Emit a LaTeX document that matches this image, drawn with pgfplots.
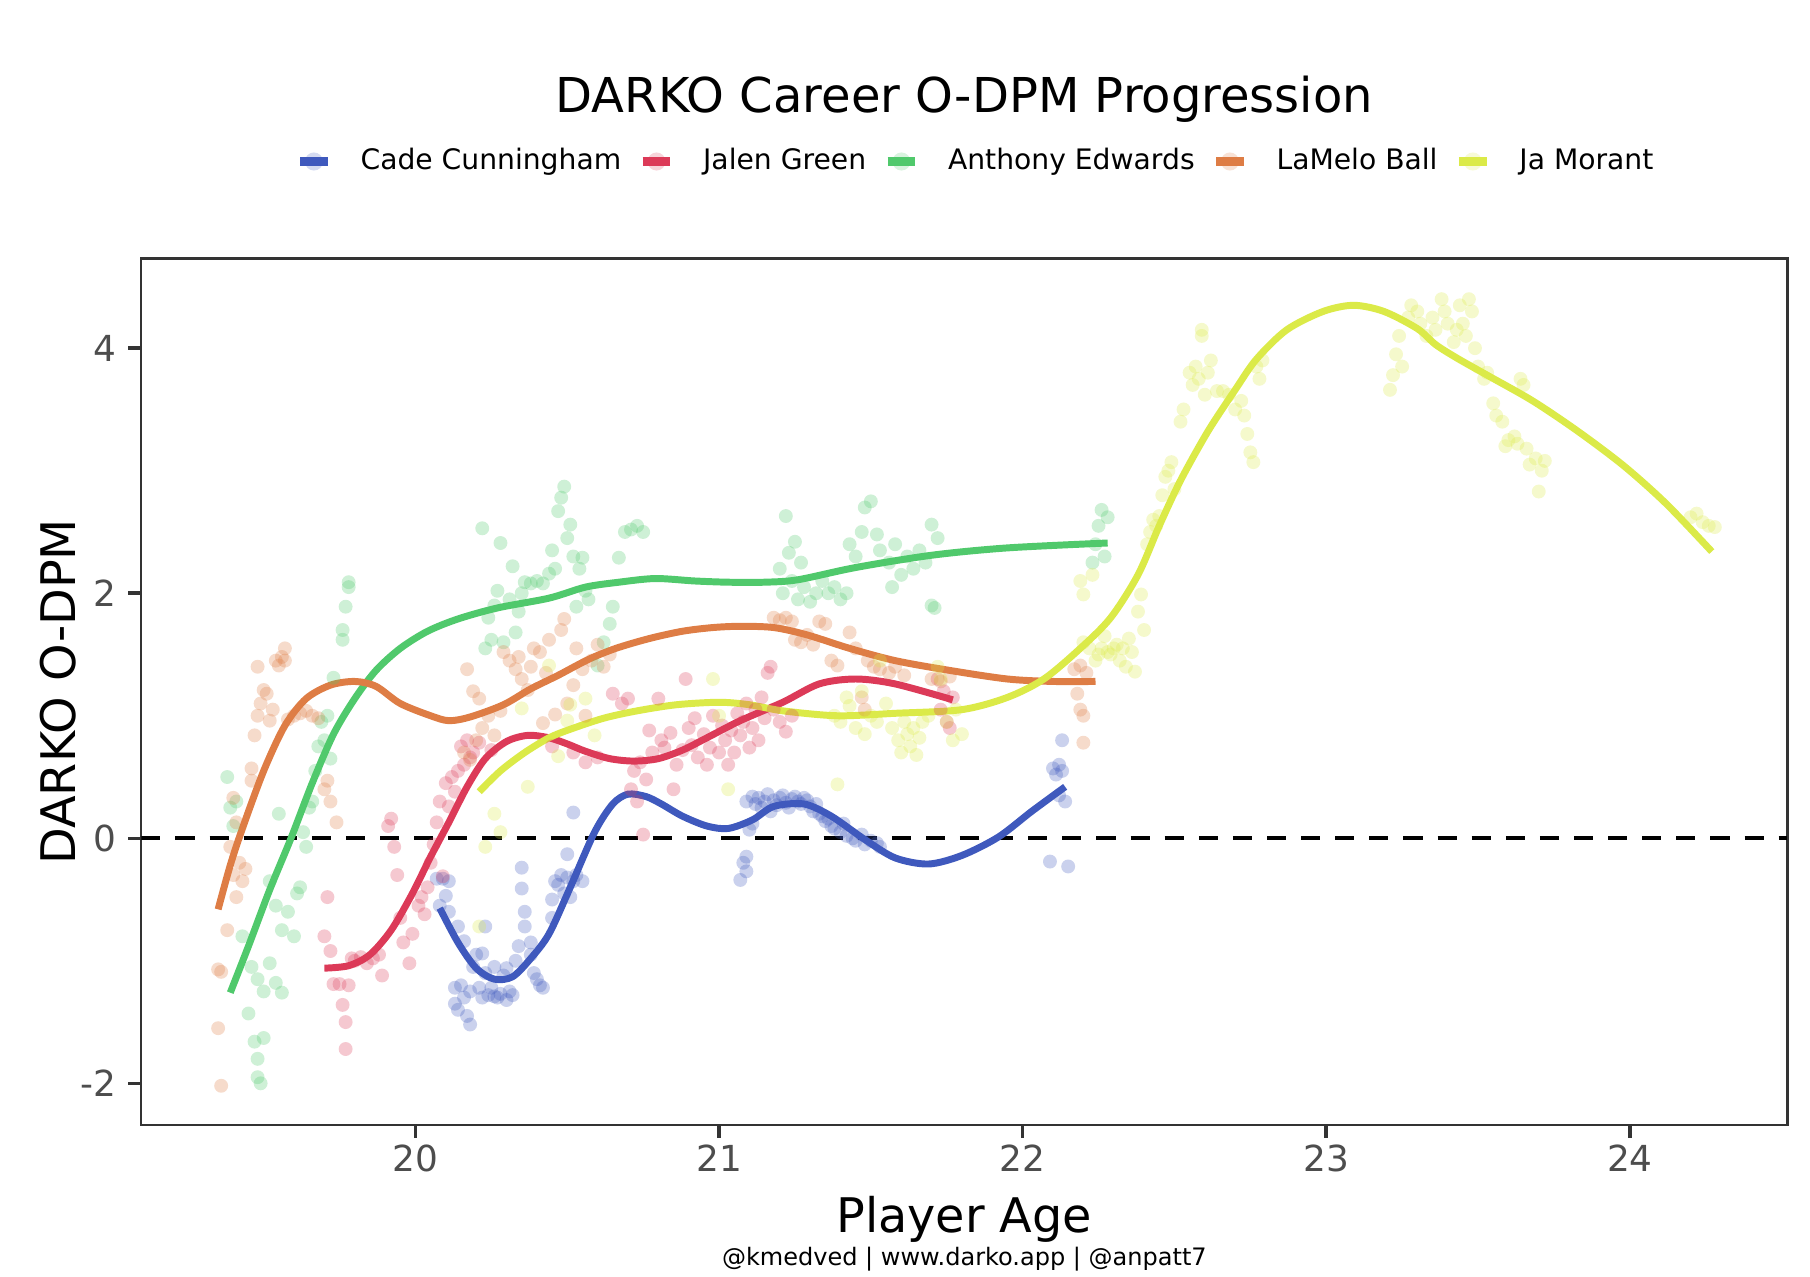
\documentclass[border=0pt]{standalone}
\usepackage{fontspec}
\setmainfont{DejaVu Sans}
\usepackage{pgfplots}
\pgfplotsset{compat=1.18}
\definecolor{cade}{HTML}{3F59BD}
\definecolor{jalen}{HTML}{DC3A58}
\definecolor{ant}{HTML}{50C96C}
\definecolor{lamelo}{HTML}{DE7D45}
\definecolor{ja}{HTML}{DBEA48}
\definecolor{tickgray}{HTML}{4D4D4D}
\definecolor{framegray}{HTML}{333333}
\pgfplotsset{
  pts/.style={only marks, mark=*, mark size=2bp, mark options={draw opacity=0, fill opacity=0.28}, forget plot},
  sline/.style={no marks, smooth, tension=0.5, line width=2.0bp},
}
\begin{document}
\begin{tikzpicture}
\path[use as bounding box] (-40.6bp,-43.4bp) rectangle (479.4bp,323.2bp);
\begin{axis}[
  scale only axis, width=472.9bp, height=248.9bp,
  xmin=19.097, xmax=24.519, ymin=-2.34, ymax=4.731,
  xtick={20,21,22,23,24}, ytick={-2,0,2,4},
  tick pos=left, tick align=outside, major tick length=3.7bp,
  tick style={draw=framegray, line width=1bp},
  axis line style={draw=framegray, line width=0.65bp},
  /pgf/number format/assume math mode=true,
  tick label style={font=\fontsize{10.3bp}{12bp}\selectfont, text=tickgray},
  xticklabel style={anchor=north, inner sep=0pt, yshift=-1.8bp},
  yticklabel style={anchor=east, inner sep=0pt, xshift=-3.2bp},
  xlabel={Player Age}, ylabel={DARKO O-DPM},
  label style={font=\fontsize{13.7bp}{16bp}\selectfont},
  xlabel style={at={(axis description cs:0.5,-0.1245)}, anchor=base},
  ylabel style={at={(axis description cs:-0.0402,0.5)}, anchor=base},
  title={DARKO Career O-DPM Progression},
  title style={at={(axis description cs:0.5,1.1449)}, anchor=base, font=\fontsize{13.8bp}{16bp}\selectfont},
  legend columns=5,
  legend cell align=left,
  legend style={at={(axis description cs:0.5084,1.1121)}, anchor=center, draw=none, fill=none,
    font=\fontsize{8.1bp}{9.7bp}\selectfont, inner sep=0pt,
    /tikz/every even column/.append style={column sep=3.0bp}},
  legend image code/.code={%
    \fill[#1, draw=none, fill opacity=0.22] (4bp,0bp) circle (2.6bp);
    \draw[#1, line width=2.3bp] (0bp,0bp) -- (8bp,0bp);
    \path[draw=none, fill=none] (0bp,-3bp) rectangle (15.4bp,3bp);
  },
]
% ---------------- scatter points ----------------
\addplot[pts, color=cade] coordinates {
(20.07,-0.33)(20.09,-0.33)(20.08,-0.55)(20.10,-0.47)(20.11,-0.60)(20.11,-0.35)
(20.13,-1.35)(20.13,-1.22)(20.14,-1.40)(20.15,-1.20)(20.16,-1.30)(20.17,-1.45)(20.18,-1.52)(20.18,-1.25)
(20.14,-0.72)(20.16,-0.84)(20.19,-1.05)(20.20,-0.95)(20.22,-0.94)(20.23,-0.72)(20.21,-1.22)(20.22,-1.30)
(20.23,-1.10)(20.24,-1.28)(20.25,-1.22)(20.26,-1.29)(20.26,-1.05)(20.27,-1.30)(20.28,-1.27)(20.29,-1.12)
(20.30,-1.32)(20.30,-1.06)(20.31,-1.25)(20.32,-1.28)(20.33,-1.00)(20.34,-0.88)(20.35,-0.24)(20.35,-0.41)
(20.36,-0.60)(20.36,-0.72)(20.38,-0.85)(20.38,-0.95)(20.39,-1.10)(20.40,-1.15)(20.41,-1.20)(20.42,-1.22)
(20.45,-0.50)(20.45,-0.65)(20.46,-0.35)(20.47,-0.38)(20.48,-0.30)(20.49,-0.45)(20.50,-0.13)(20.50,-0.32)
(20.51,-0.48)(20.52,-0.35)(20.52,0.21)(20.53,-0.30)(20.55,-0.35)
(21.07,-0.34)(21.08,-0.20)(21.09,-0.15)(21.09,-0.27)(21.10,0.07)(21.11,0.12)(21.09,0.30)(21.11,0.34)
(21.12,0.28)(21.13,0.33)(21.14,0.25)(21.15,0.30)(21.16,0.36)(21.17,0.22)(21.18,0.31)(21.19,0.27)
(21.20,0.33)(21.21,0.35)(21.22,0.29)(21.23,0.25)(21.24,0.32)(21.25,0.34)(21.26,0.30)(21.27,0.28)
(21.28,0.33)(21.29,0.31)(21.30,0.26)(21.31,0.22)(21.32,0.28)(21.33,0.20)(21.34,0.18)(21.35,0.14)
(21.36,0.16)(21.37,0.10)(21.38,0.08)(21.40,0.05)(21.41,0.12)(21.42,0.02)(21.44,0.00)(21.45,-0.02)
(21.47,0.03)(21.48,-0.05)(21.50,-0.02)(21.52,-0.04)(21.53,-0.07)
(22.10,0.57)(22.11,0.52)(22.12,0.60)(22.13,0.80)(22.12,0.35)(22.14,0.30)(22.09,-0.19)(22.15,-0.23)(22.13,0.55)
};
\addplot[pts, color=jalen] coordinates {
(19.70,-0.80)(19.71,-0.48)(19.72,-0.92)(19.73,-1.19)(19.75,-1.19)(19.76,-1.36)(19.77,-1.50)(19.77,-1.72)
(19.79,-0.98)(19.80,-1.00)(19.82,-0.97)(19.84,-1.02)(19.86,-0.98)(19.88,-0.95)(19.89,-1.12)(19.78,-1.20)
(19.91,0.10)(19.92,0.16)(19.93,-0.07)(19.94,-0.30)(19.95,-0.65)(19.96,-0.85)(19.98,-1.02)(19.99,-0.78)
(20.01,-0.55)(20.02,-0.48)(20.03,-0.62)(20.04,-0.40)(20.05,-0.20)(20.06,-0.05)(20.07,0.13)(20.08,0.30)
(20.09,-0.31)(20.10,0.45)(20.11,0.26)(20.12,0.50)(20.13,0.38)(20.14,0.55)(20.15,0.75)(20.16,0.60)
(20.17,0.80)(20.18,0.66)(20.19,0.70)(20.21,0.78)(20.25,0.72)
(20.45,0.75)(20.52,0.70)(20.56,0.62)(20.60,0.66)(20.65,1.18)(20.68,1.10)(20.70,1.14)(20.71,0.40)
(20.72,0.55)(20.73,0.30)(20.74,0.62)(20.75,0.03)(20.76,0.48)(20.77,0.88)(20.78,0.70)(20.80,1.14)
(20.81,0.80)(20.82,0.74)(20.84,0.86)(20.85,0.40)(20.86,0.60)(20.88,0.72)(20.89,1.30)(20.90,0.90)
(20.91,0.76)(20.92,0.98)(20.93,0.66)(20.95,0.85)(20.96,0.60)(20.97,0.74)(20.98,1.00)(21.00,0.70)
(21.01,0.92)(21.02,0.80)(21.03,0.60)(21.04,0.88)(21.05,0.70)(21.06,1.02)(21.07,0.84)(21.08,0.95)
(21.09,1.10)(21.10,0.74)(21.11,0.90)(21.12,1.05)(21.13,0.80)(21.14,1.15)(21.15,0.98)(21.16,1.35)
(21.17,1.40)(21.18,1.05)(21.20,0.95)(21.22,0.87)(21.24,1.00)
(21.72,1.30)(21.73,1.05)(21.74,1.20)(21.75,0.95)(21.76,0.90)(21.77,1.15)
};
\addplot[pts, color=ant] coordinates {
(19.38,0.50)(19.39,0.25)(19.40,0.10)(19.41,0.30)(19.43,-0.80)(19.45,-1.43)(19.47,-1.66)(19.48,-1.80)
(19.48,-1.95)(19.49,-2.00)(19.50,-1.63)(19.46,-1.05)(19.48,-1.15)(19.50,-1.25)(19.52,-1.02)(19.54,-1.18)
(19.56,-1.26)(19.52,-0.35)(19.54,-0.55)(19.56,-0.75)(19.58,-0.60)(19.60,-0.80)(19.61,-0.45)(19.55,0.20)
(19.62,-0.40)(19.63,0.05)(19.64,-0.07)(19.65,0.25)(19.66,0.30)(19.67,0.55)(19.68,0.75)(19.69,0.95)
(19.70,0.80)(19.71,1.00)(19.72,0.65)(19.73,1.31)(19.76,1.62)(19.76,1.70)(19.77,1.89)(19.78,2.09)(19.78,2.05)
(20.22,2.53)(20.23,1.55)(20.24,1.80)(20.25,1.62)(20.26,1.90)(20.27,2.02)(20.28,2.41)(20.29,1.60)
(20.31,1.95)(20.32,2.22)(20.33,1.68)(20.34,1.85)(20.35,2.00)(20.36,2.09)(20.38,2.08)(20.40,2.10)
(20.42,2.08)(20.44,2.16)(20.45,2.35)(20.46,2.20)(20.47,2.67)(20.48,2.78)(20.49,2.87)(20.50,2.45)
(20.51,2.56)(20.52,2.30)(20.53,1.89)(20.54,2.20)(20.55,2.29)(20.56,2.02)(20.57,1.95)(20.60,1.41)
(20.62,1.60)(20.64,1.75)(20.65,1.89)(20.67,2.29)(20.69,2.50)(20.71,2.52)(20.73,2.55)(20.75,2.50)
(21.20,2.20)(21.21,2.00)(21.22,2.63)(21.23,2.33)(21.24,2.10)(21.25,2.42)(21.26,1.95)(21.27,2.25)
(21.28,2.05)(21.30,1.93)(21.32,2.00)(21.34,2.10)(21.36,2.00)(21.38,2.05)(21.40,1.95)(21.42,2.00)
(21.43,2.40)(21.45,2.30)(21.47,2.50)(21.48,2.70)(21.50,2.75)(21.52,2.48)(21.53,2.35)(21.56,2.25)
(21.57,2.05)(21.58,2.40)(21.60,2.15)(21.62,2.30)(21.64,2.20)(21.66,2.35)(21.68,2.25)(21.70,2.56)
(21.70,1.90)(21.71,1.88)(21.72,2.45)
(22.23,2.25)(22.24,2.40)(22.25,2.55)(22.26,2.68)(22.27,2.30)(22.28,2.62)
};
\addplot[pts, color=lamelo] coordinates {
(19.35,-1.07)(19.36,-1.09)(19.35,-1.55)(19.36,-2.02)(19.38,-0.75)(19.39,-0.07)(19.40,-0.30)(19.41,-0.48)
(19.42,-0.20)(19.43,-0.35)(19.44,-0.25)(19.40,0.33)(19.41,0.13)(19.46,0.57)(19.46,0.47)(19.47,0.84)
(19.48,1.00)(19.49,1.10)(19.50,1.21)(19.48,1.40)(19.51,1.18)(19.52,0.96)(19.53,1.05)(19.54,1.45)
(19.55,1.41)(19.56,1.48)(19.57,1.55)(19.57,1.45)(19.58,0.97)(19.60,1.00)(19.62,1.02)(19.64,1.04)
(19.66,1.00)(19.68,0.98)(19.70,0.40)(19.72,0.30)(19.74,0.13)(19.71,0.47)
(20.16,0.70)(20.17,1.38)(20.18,0.64)(20.19,1.20)(20.20,0.80)(20.21,1.14)(20.22,0.90)(20.24,1.00)
(20.26,0.84)(20.28,1.04)(20.29,1.52)(20.31,1.45)(20.33,1.38)(20.34,1.48)(20.35,1.30)(20.37,1.21)
(20.38,1.40)(20.39,1.55)(20.41,1.52)(20.42,0.94)(20.43,1.35)(20.44,1.62)(20.46,1.01)(20.48,1.70)
(20.49,1.79)(20.50,1.10)(20.52,1.25)(20.53,1.55)(20.55,1.38)(20.56,1.00)(20.58,1.45)(20.60,1.58)
(20.62,1.40)(20.64,1.50)
(21.18,1.80)(21.20,1.78)(21.22,1.80)(21.24,1.77)(21.25,1.62)(21.27,1.60)(21.29,1.66)(21.31,1.58)
(21.33,1.77)(21.35,1.75)(21.37,1.45)(21.39,1.41)(21.43,1.68)(21.45,1.55)(21.47,1.15)(21.48,1.05)
(21.49,1.45)(21.51,1.40)(21.53,1.38)(21.56,1.35)(21.58,1.40)(21.61,1.33)(21.70,1.30)(21.73,1.28)(21.76,1.32)
(22.17,1.38)(22.19,1.41)(22.21,1.35)(22.18,1.18)(22.19,1.05)(22.20,1.00)(22.20,0.78)
};
\addplot[pts, color=ja] coordinates {
(20.21,-0.72)(20.23,-0.07)(20.26,0.20)(20.28,0.05)(20.35,1.06)(20.37,0.42)(20.44,1.41)(20.47,0.67)
(20.50,0.96)(20.51,1.09)(20.56,1.14)(20.59,0.84)(20.98,1.30)(21.00,1.00)(21.03,0.40)
(21.39,0.44)(21.38,1.00)(21.40,0.95)(21.42,1.15)(21.43,1.08)(21.45,0.90)(21.47,1.20)(21.48,0.85)
(21.50,1.00)(21.52,0.95)(21.53,1.45)(21.55,1.10)(21.57,0.90)(21.59,0.80)(21.60,0.70)(21.61,0.95)
(21.62,0.85)(21.63,0.75)(21.64,0.90)(21.65,0.68)(21.66,0.82)(21.67,0.95)(21.69,1.00)(21.72,1.40)
(21.73,1.30)(21.75,0.95)(21.77,0.80)(21.78,1.05)(21.80,0.85)
(22.19,2.10)(22.20,1.99)(22.20,1.60)(22.22,1.55)(22.23,2.15)(22.24,1.45)(22.25,1.50)(22.26,1.55)
(22.27,1.65)(22.28,1.52)(22.29,1.50)(22.30,1.55)(22.31,1.58)(22.32,1.45)(22.33,1.55)(22.34,1.40)
(22.35,1.63)(22.36,1.52)(22.37,1.36)(22.38,1.85)(22.39,1.99)(22.40,1.70)(22.41,2.40)(22.42,2.50)
(22.43,2.60)(22.44,2.55)(22.45,2.63)(22.46,2.80)(22.47,2.95)(22.48,3.00)(22.49,3.07)(22.50,2.85)
(22.52,3.40)(22.53,3.50)(22.55,3.80)(22.56,3.70)(22.57,3.85)(22.58,3.75)(22.59,4.10)(22.59,4.15)
(22.60,3.62)(22.61,3.80)(22.62,3.90)(22.64,3.65)(22.66,3.65)(22.68,3.62)(22.70,3.50)(22.72,3.57)
(22.73,3.45)(22.74,3.30)(22.75,3.15)(22.76,3.07)(22.77,3.85)(22.78,3.75)(22.79,3.90)
(23.21,3.66)(23.22,3.78)(23.23,3.95)(23.24,4.10)(23.25,3.85)(23.27,4.25)(23.28,4.35)(23.30,4.30)
(23.31,4.20)(23.33,4.10)(23.35,4.25)(23.36,4.15)(23.38,4.40)(23.39,4.30)(23.40,4.20)(23.42,4.05)
(23.43,4.15)(23.44,4.35)(23.45,4.20)(23.46,4.10)(23.47,4.40)(23.48,4.30)(23.49,4.00)(23.50,3.85)
(23.52,3.75)(23.53,3.80)(23.55,3.55)(23.56,3.45)(23.58,3.40)(23.59,3.20)(23.60,3.25)(23.62,3.28)
(23.63,3.22)(23.64,3.75)(23.65,3.70)(23.66,3.18)(23.67,3.05)(23.69,3.10)(23.71,3.00)(23.72,3.08)(23.70,2.83)
(24.20,2.62)(24.22,2.65)(24.24,2.58)(24.26,2.55)(24.28,2.54)
};
% ---------------- zero line ----------------
\addplot[forget plot, black, line width=1.15bp, dash pattern=on 5.5bp off 4.3bp] coordinates {(19.097,0) (24.519,0)};
% ---------------- smoothed lines ----------------
\addplot[sline, color=cade] coordinates {
(20.08,-0.57)(20.14,-0.85)(20.20,-1.06)(20.26,-1.15)(20.32,-1.13)(20.38,-0.98)(20.44,-0.78)(20.51,-0.40)
(20.59,0.05)(20.65,0.28)(20.70,0.36)(20.76,0.34)(20.81,0.28)(20.88,0.18)(20.96,0.10)(21.03,0.08)
(21.11,0.15)(21.18,0.26)(21.28,0.28)(21.37,0.18)(21.48,-0.01)(21.58,-0.16)(21.69,-0.21)(21.80,-0.14)
(21.92,0.01)(22.03,0.22)(22.14,0.42)
};
\addlegendentry{Cade Cunningham}
\addplot[sline, color=jalen] coordinates {
(19.70,-1.06)(19.78,-1.04)(19.85,-0.95)(19.92,-0.75)(19.99,-0.45)(20.05,-0.15)(20.11,0.13)(20.17,0.42)
(20.23,0.65)(20.30,0.79)(20.37,0.84)(20.44,0.82)(20.50,0.77)(20.56,0.71)(20.64,0.65)(20.72,0.63)
(20.80,0.65)(20.88,0.72)(20.96,0.82)(21.07,0.96)(21.21,1.11)(21.33,1.26)(21.45,1.30)(21.58,1.26)(21.77,1.13)
};
\addlegendentry{Jalen Green}
\addplot[sline, color=ant] coordinates {
(19.39,-1.26)(19.45,-0.88)(19.52,-0.42)(19.59,0.00)(19.66,0.45)(19.73,0.85)(19.80,1.14)(19.87,1.37)
(19.95,1.55)(20.04,1.69)(20.14,1.79)(20.27,1.88)(20.44,1.96)(20.56,2.05)(20.67,2.09)(20.79,2.12)
(20.92,2.10)(21.03,2.09)(21.15,2.09)(21.26,2.11)(21.45,2.21)(21.70,2.31)(21.95,2.37)(22.28,2.41)
};
\addlegendentry{Anthony Edwards}
\addplot[sline, color=lamelo] coordinates {
(19.35,-0.58)(19.39,-0.22)(19.43,0.08)(19.50,0.55)(19.57,0.92)(19.64,1.14)(19.72,1.25)(19.80,1.28)
(19.87,1.24)(19.95,1.10)(20.05,1.00)(20.11,0.96)(20.18,0.99)(20.29,1.09)(20.38,1.22)(20.47,1.33)
(20.57,1.46)(20.66,1.55)(20.77,1.63)(20.88,1.69)(20.98,1.72)(21.07,1.73)(21.18,1.72)(21.29,1.66)
(21.43,1.55)(21.58,1.45)(21.76,1.37)(21.95,1.30)(22.10,1.28)(22.24,1.28)
};
\addlegendentry{LaMelo Ball}
\addplot[sline, color=ja] coordinates {
(20.21,0.38)(20.28,0.55)(20.36,0.70)(20.44,0.82)(20.51,0.89)(20.62,0.98)(20.73,1.04)(20.86,1.09)
(21.00,1.11)(21.10,1.09)(21.21,1.04)(21.39,1.00)(21.58,1.02)(21.80,1.05)(21.95,1.15)(22.07,1.30)
(22.19,1.55)(22.29,1.80)(22.38,2.15)(22.45,2.55)(22.52,2.92)(22.61,3.32)(22.70,3.66)(22.77,3.91)
(22.87,4.15)(22.99,4.30)(23.09,4.35)(23.19,4.30)(23.30,4.16)(23.36,4.03)(23.43,3.92)(23.53,3.78)
(23.68,3.57)(23.83,3.32)(23.98,3.04)(24.12,2.73)(24.27,2.34)
};
\addlegendentry{Ja Morant}
\end{axis}
\node[anchor=base, inner sep=0pt, font=\fontsize{6.9bp}{8bp}\selectfont] at (236.45bp,-40.5bp) {@kmedved | www.darko.app | @anpatt7};
\end{tikzpicture}
\end{document}
